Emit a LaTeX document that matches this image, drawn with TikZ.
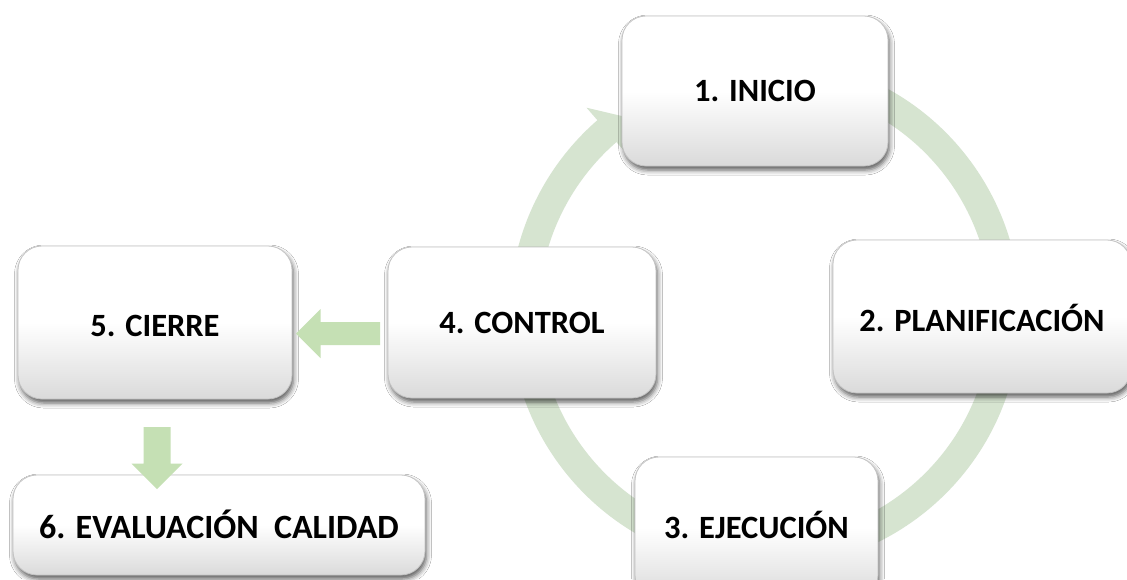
\documentclass[tikz,border=0pt]{standalone}
\usepackage{fontspec}
\setmainfont{Carlito}
\usetikzlibrary{shadows.blur,calc}
\definecolor{ringgreen}{RGB}{214,228,208}
\definecolor{arrowgreen}{RGB}{197,224,180}
\definecolor{boxborder}{RGB}{195,195,195}
\definecolor{boxbottom}{RGB}{218,218,218}
\begin{document}
\begin{tikzpicture}[x=1pt,y=-1pt,
  stagebox/.style={draw=boxborder, line width=0.8pt, rounded corners=24pt,
    top color=white, bottom color=boxbottom, middle color=white,
    blur shadow={shadow xshift=1.5pt, shadow yshift=-4pt, shadow blur radius=5pt, shadow opacity=65},
    font=\fontsize{32.5}{38}\selectfont\bfseries, text=black,
    text height=21pt, text depth=0pt, inner sep=0pt},
  bigtext/.style={font=\fontsize{34}{40}\selectfont\bfseries, text height=21.9pt},
  blockarrow/.style={fill=arrowgreen, draw=none},
  ringline/.style={draw=ringgreen, line width=29pt, line cap=butt}
]
\useasboundingbox (0,0) rectangle (1127,579);
\fill[white] (0,0) rectangle (1127,579);

% circular cycle arrow
\coordinate (c) at (765,313);
\draw[ringline] ($(c)+(-80:241)$) arc[start angle=-80, end angle=229.4, radius=241];
\fill[ringgreen] ($(c)+(229:272)$) -- ($(c)+(234.5:241)$) -- ($(c)+(229:210)$) -- cycle;

% stage boxes
\node[stagebox, minimum width=266pt, minimum height=150pt] (inicio) at (755,91) {1. INICIO};
\node[stagebox, minimum width=298pt, minimum height=153pt] (plan) at (982,316.5) {\raisebox{-4.5pt}{2. PLANIFICACIÓN}};
\node[stagebox, minimum width=243pt, minimum height=142pt] (ejec) at (756.5,528) {3. EJECUCIÓN};
\node[stagebox, minimum width=268pt, minimum height=151pt] (control) at (522,322.5) {4. CONTROL};
\node[stagebox, minimum width=274pt, minimum height=153pt] (cierre) at (155,322.5) {\raisebox{-3pt}{5. CIERRE}};
\node[stagebox, bigtext, minimum width=412pt, minimum height=100pt] (eval) at (219,525) {\raisebox{-3pt}{6. EVALUACIÓN\ \ CALIDAD}};

% block arrows
\coordinate (aLtail) at (380,333.5);
\coordinate (aLtip) at (296,333.5);
\fill[blockarrow] ($(aLtail)+(0,-11.5)$) -- ($(aLtip)+(24.5,-11.5)$) -- ($(aLtip)+(24.5,-24.5)$)
  -- (aLtip) -- ($(aLtip)+(24.5,24.5)$) -- ($(aLtip)+(24.5,11.5)$) -- ($(aLtail)+(0,11.5)$) -- cycle;
\coordinate (aDtail) at (157,427);
\coordinate (aDtip) at (157,489);
\fill[blockarrow] ($(aDtail)+(-13.5,0)$) -- ($(aDtip)+(-13.5,-25.5)$) -- ($(aDtip)+(-25.5,-25.5)$)
  -- (aDtip) -- ($(aDtip)+(25.5,-25.5)$) -- ($(aDtip)+(13.5,-25.5)$) -- ($(aDtail)+(13.5,0)$) -- cycle;
\end{tikzpicture}
\end{document}
